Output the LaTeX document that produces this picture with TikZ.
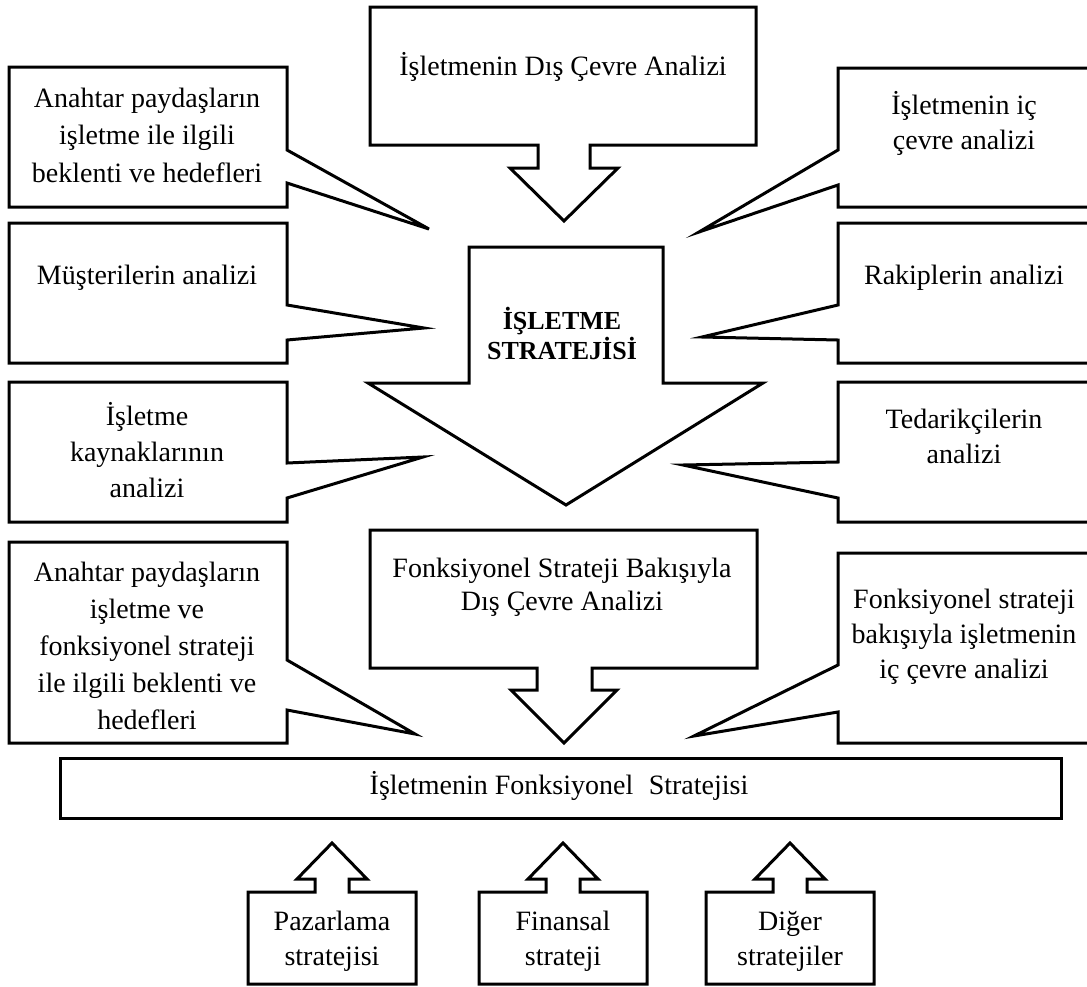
\documentclass[tikz,border=0pt]{standalone}
\usepackage{fontspec}
\setmainfont{Liberation Serif}
\usepackage{tikz}

\begin{document}
\begin{tikzpicture}[x=1pt, y=-1pt, kutu/.style={line width=3pt, line join=miter, fill=white}, yazi/.style={align=center, inner sep=0pt, font=\fontsize{28}{36}\selectfont}]
			\useasboundingbox (0,0) rectangle (1087,986);
			\clip (0,0) rectangle (1087,986);
			
			\draw[kutu] (370,7) -- (756,7) -- (756,145) -- (590,145) -- (590,168) -- (618,168) -- (564,221) -- (510,168) -- (538,168) -- (538,145) -- (370,145) -- cycle;
			\draw[kutu] (469,247) -- (663,247) -- (663,383) -- (763,383) -- (566,505) -- (368,383) -- (469,383) -- cycle;
			\draw[kutu] (370,530) -- (757,530) -- (757,668) -- (592,668) -- (592,690) -- (617,690) -- (564,743) -- (511,690) -- (537,690) -- (537,668) -- (370,668) -- cycle;
			\draw[kutu] (60,758) rectangle (1061,818);
			
			\foreach \ya/\yb/\yc/\yd/\tx/\ty in {67/150/183/207/429/229, 223/305/340/363/424/328, 382/463/498/522/423/457, 542/660/710/743/415/734}
			\draw[kutu] (9,\ya) -- (287,\ya) -- (287,\yb) -- (\tx,\ty) -- (287,\yc) -- (287,\yd) -- (9,\yd) -- cycle;
			
			\foreach \ya/\yb/\yc/\yd/\tx/\ty in {68/150/185/207/699/232, 223/305/340/363/702/337, 382/462/498/522/683/465, 553/665/712/743/694/736}
			\draw[kutu] (1117,\ya) -- (838,\ya) -- (838,\yb) -- (\tx,\ty) -- (838,\yc) -- (838,\yd) -- (1117,\yd) -- cycle;
			
			\foreach \cx in {332, 563, 790}
			\draw[kutu] (\cx-84,984) -- (\cx-84,892) -- (\cx-17,892) -- (\cx-17,879) -- (\cx-35,879) -- (\cx,843) -- (\cx+35,879) -- (\cx+17,879) -- (\cx+17,892) -- (\cx+84,892) -- (\cx+84,984) -- cycle;
			
			\node[yazi] (disCevre) at (563,67) {İşletmenin Dış Çevre Analizi};
			\node[yazi, font=\fontsize{26}{30}\selectfont\bfseries] (strateji) at (562,333) {İŞLETME\\ STRATEJİSİ};
			\node[yazi, font=\fontsize{28}{33}\selectfont] (fonkDis) at (562,587) {Fonksiyonel Strateji Bakışıyla\\ Dış Çevre Analizi};
			\node[yazi] (fonkStr) at (559,786) {İşletmenin Fonksiyonel\hspace{0.3em} Stratejisi};
			
			\node[yazi, font=\fontsize{28}{37.5}\selectfont] (paydas) at (147,135) {Anahtar paydaşların\\ işletme ile ilgili\\ beklenti ve hedefleri};
			\node[yazi] (musteri) at (147,278) {Müşterilerin analizi};
			\node[yazi] (kaynak) at (147,450) {İşletme\\ kaynaklarının\\ analizi};
			\node[yazi, font=\fontsize{28}{37}\selectfont] (paydasFonk) at (147,646) {Anahtar paydaşların\\ işletme ve\\ fonksiyonel strateji\\ ile ilgili beklenti ve\\ hedefleri};
			
			\node[yazi, font=\fontsize{28}{35}\selectfont] (icCevre) at (964,123) {İşletmenin iç\\ çevre analizi};
			\node[yazi] (rakip) at (964,278) {Rakiplerin analizi};
			\node[yazi, font=\fontsize{28}{35}\selectfont] (tedarik) at (964,436) {Tedarikçilerin\\ analizi};
			\node[yazi, font=\fontsize{28}{35}\selectfont] (fonkIc) at (964,637) {Fonksiyonel strateji\\ bakışıyla işletmenin\\ iç çevre analizi};
			
			\node[yazi, font=\fontsize{28}{35}\selectfont] (pazarlama) at (332,941) {Pazarlama\\ stratejisi};
			\node[yazi, font=\fontsize{28}{35}\selectfont] (finansal) at (563,941) {Finansal\\ strateji};
			\node[yazi, font=\fontsize{28}{35}\selectfont] (diger) at (790,941) {Diğer\\ stratejiler};
			\end{tikzpicture}
\end{document}
